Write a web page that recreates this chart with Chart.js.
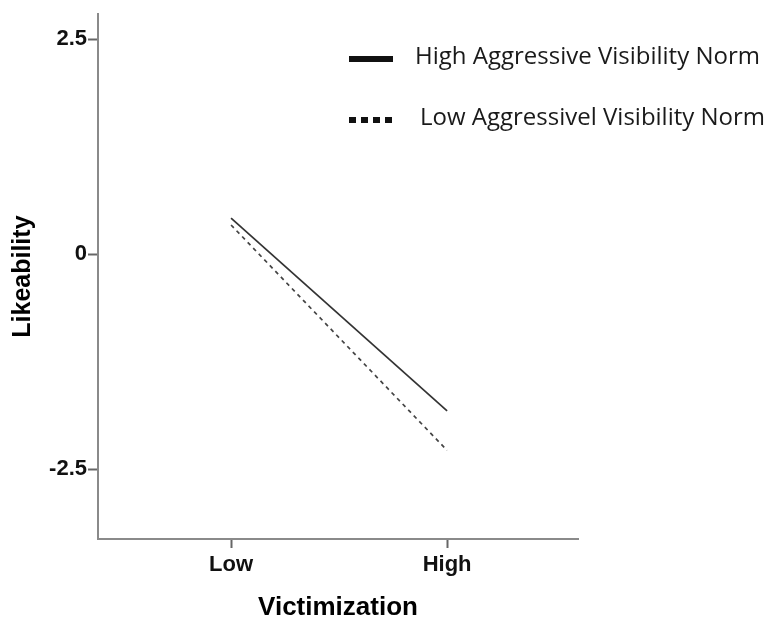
<!DOCTYPE html>
<html lang="en">
<head>
    <meta charset="UTF-8">
    <title>Likeability by Victimization</title>
    <script src="https://cdn.jsdelivr.net/npm/chart.js"></script>
    <style>
        body {
            margin: 0;
            background-color: #fff;
        }
        #wrap {
            width: 768px;
            height: 617px;
        }
    </style>
</head>
<body>
    <div id="wrap"><canvas id="likeChart" width="768" height="617"></canvas></div>
    <script>
        // values
        const xLabels = ['Low', 'High'];
        const highNorm = [0.42, -1.82];
        const lowNorm = [0.34, -2.28];
        const yTicks = [-2.5, 0, 2.5];
        const seriesNames = ['High Aggressive Visibility Norm', 'Low Aggressivel Visibility Norm'];

        const axisGray = '#8a8a8a';

        function toPoints(vals) {
            return vals.map((v, i) => ({ x: i, y: v }));
        }

        // legend drawn inside the plot, top right, like the original
        const insideLegend = {
            id: 'insideLegend',
            afterDraw(chart) {
                const ctx = chart.ctx;
                const rows = [59, 120];
                ctx.save();
                chart.data.datasets.forEach((ds, i) => {
                    const y = rows[i];
                    ctx.fillStyle = '#111';
                    if (i === 0) {
                        ctx.fillRect(349, y - 3, 44, 6);
                    } else {
                        for (let k = 0; k < 4; k++) {
                            ctx.fillRect(349 + k * 12, y - 3, 7, 6);
                        }
                    }
                    ctx.font = '24px "Open Sans", sans-serif';
                    ctx.textBaseline = 'middle';
                    ctx.fillStyle = '#1a1a1a';
                    ctx.fillText(ds.label, i === 0 ? 415 : 420, y - 2);
                });
                ctx.restore();
            }
        };

        new Chart(document.getElementById('likeChart'), {
            type: 'line',
            data: {
                datasets: [
                    {
                        label: seriesNames[0],
                        data: toPoints(highNorm),
                        borderColor: '#333',
                        borderWidth: 1.7,
                        pointRadius: 0,
                        fill: false
                    },
                    {
                        label: seriesNames[1],
                        data: toPoints(lowNorm),
                        borderColor: '#444',
                        borderWidth: 1.7,
                        borderDash: [4, 4],
                        pointRadius: 0,
                        fill: false
                    }
                ]
            },
            options: {
                responsive: false,
                animation: false,
                layout: {
                    padding: { top: 12, right: 190, left: 0, bottom: 0 }
                },
                plugins: {
                    legend: { display: false },
                    tooltip: { enabled: false }
                },
                scales: {
                    x: {
                        type: 'linear',
                        min: -0.616,
                        max: 1.606,
                        afterBuildTicks: scale => {
                            scale.ticks = xLabels.map((l, i) => ({ value: i }));
                        },
                        afterFit: scale => {
                            scale.height = 617 - 539;
                        },
                        ticks: {
                            callback: v => xLabels[v],
                            font: { family: 'Liberation Sans', size: 22, weight: 'bold' },
                            color: '#111',
                            padding: 4
                        },
                        grid: {
                            drawOnChartArea: false,
                            tickLength: 9,
                            tickColor: '#666',
                            tickWidth: 2
                        },
                        border: { color: axisGray, width: 2 },
                        title: {
                            display: true,
                            text: 'Victimization',
                            font: { family: 'Liberation Sans', size: 26, weight: 'bold', lineHeight: 1 },
                            color: '#000',
                            padding: { top: 0, bottom: -4 }
                        }
                    },
                    y: {
                        min: -3.31,
                        max: 2.79,
                        afterBuildTicks: scale => {
                            scale.ticks = yTicks.map(v => ({ value: v }));
                        },
                        afterFit: scale => {
                            scale.width = 98;
                        },
                        ticks: {
                            callback: v => String(v),
                            font: { family: 'Liberation Sans', size: 22, weight: 'bold' },
                            color: '#111',
                            padding: 1
                        },
                        grid: {
                            drawOnChartArea: false,
                            tickLength: 10,
                            tickColor: '#666',
                            tickWidth: 2
                        },
                        border: { color: axisGray, width: 2 },
                        title: {
                            display: true,
                            text: 'Likeability',
                            font: { family: 'Liberation Sans', size: 25, weight: 'bold', lineHeight: 1.2 },
                            color: '#000',
                            padding: { top: 8, bottom: 0 }
                        }
                    }
                }
            },
            plugins: [insideLegend]
        });
    </script>
</body>
</html>
